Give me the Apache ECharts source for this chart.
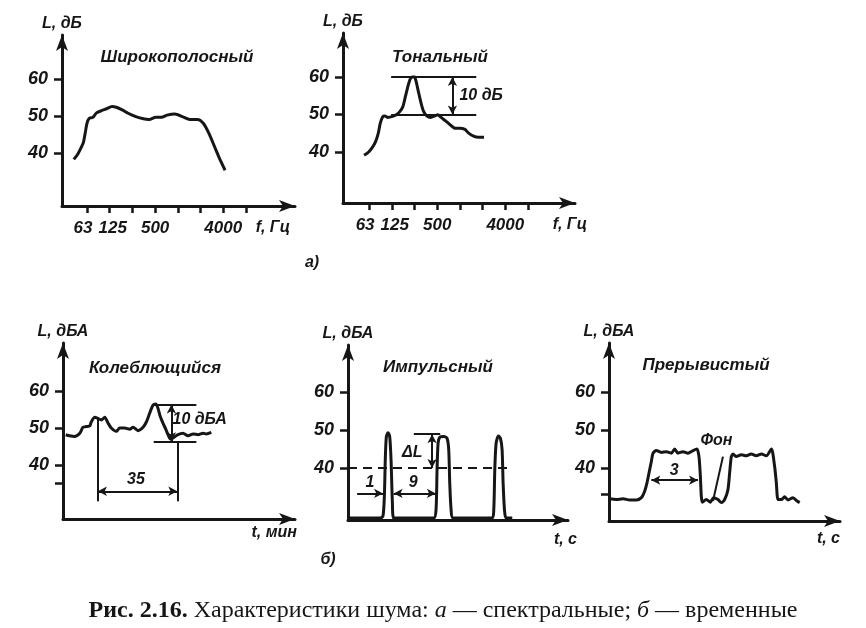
<!DOCTYPE html>
<html><head><meta charset="utf-8">
<script src="https://cdn.jsdelivr.net/npm/echarts@6/dist/echarts.min.js"></script>
<style>html,body{margin:0;padding:0;background:#fff}#c{width:866px;height:628px}</style>
</head><body><div id="c"></div>
<script>
// ---- data ----
const bands = ['63','125','250','500','1000','2000','4000','8000']; // octave bands, x = band index
const bandLabelIdx = [1,3,6];
const bandLabelFirst = [0];
const levelTicks = [40,50,60];

// а) spectral: [band index, L dB]
const broadband = [[-0.58,38.4],[-0.41,39.8],[-0.24,41.8],[-0.16,42.9],[-0.08,45.4],[0,48.1],[0.09,49.4],[0.26,49.7],[0.42,50.9],[0.64,51.5],[0.87,52.0],[1.10,52.6],[1.29,52.4],[1.55,51.7],[1.81,50.8],[2.15,49.9],[2.44,49.4],[2.74,49.1],[3.03,49.7],[3.28,49.7],[3.53,50.3],[3.87,50.6],[4.2,49.9],[4.53,49.1],[4.87,49.1],[5.12,48.1],[5.37,45.4],[5.62,41.8],[5.87,38.2],[6.08,35.5]];
const tonal = [[-0.22,39.1],[-0.02,40.0],[0.15,41.3],[0.28,42.7],[0.40,44.9],[0.49,47.6],[0.60,49.4],[0.69,49.6],[0.83,49.2],[1.0,49.4],[1.2,49.9],[1.36,50.8],[1.49,52.1],[1.6,54.8],[1.71,57.5],[1.8,59.3],[1.89,60],[2.0,60],[2.07,58.8],[2.17,56.1],[2.29,53.0],[2.4,50.8],[2.54,49.6],[2.71,49.2],[2.89,49.6],[3.03,49.9],[3.17,49.2],[3.37,48.3],[3.58,47.2],[3.8,46.3],[4.0,46.3],[4.22,46.0],[4.37,45.1],[4.6,44.2],[4.82,43.9],[5.06,43.9]];
const tonalRefLevels = [50,60];
const tonalRefSpan = [0.97,4.72];
const tonalArrowX = 3.67;

// б) temporal
const fluct = [[1.2,48.2],[2.9,47.9],[5.1,47.7],[7.4,48.6],[8.8,50.2],[10.3,50.4],[11.8,50.6],[12.5,51.7],[14.0,52.9],[15.4,52.6],[16.9,52.2],[18.4,52.9],[19.9,51.3],[21.3,50.0],[23.5,49.1],[25.0,50.0],[27.2,50.0],[29.4,49.7],[30.9,50.2],[33.1,49.3],[35.3,50.2],[36.8,51.7],[38.2,54.0],[39.7,56.2],[40.9,56.5],[41.9,55.3],[42.9,53.1],[44.1,51.3],[45.3,49.7],[46.3,48.2],[47.4,47.0],[48.5,47.3],[50.7,48.2],[52.9,48.6],[55.1,47.9],[57.4,48.4],[59.6,48.2],[61.8,48.6],[63.2,48.4],[65.4,48.8]];
const fluctSwing = [56.4,46.4];       // levels of the 10 dBA bracket
const fluctSwingSpan = [39.7,58.8];
const fluctSwingX = 47.8;
const fluctPeriod = [15.4,50.4];      // 35 min
const fluctPeriodTop = [52.6,46.4];

const impulse = [[0.3,26.8],[6.74,26.8],[7.29,27.4],[7.57,32.6],[7.78,43.0],[7.99,48.3],[8.33,49.3],[8.68,48.3],[8.96,42.2],[9.24,30.9],[9.51,26.8],
  [17.85,26.8],[18.33,29.1],[18.54,39.6],[18.75,46.5],[19.1,48.1],[19.93,48.3],[20.63,47.8],[20.97,44.8],[21.18,36.1],[21.46,29.1],[21.88,26.8],
  [30.0,26.8],[30.35,29.1],[30.56,39.6],[30.83,46.5],[31.32,48.4],[31.74,47.8],[32.08,44.8],[32.29,36.1],[32.57,29.1],[32.92,26.8],[34.2,26.8]];
const impulseThreshold = 40;
const impulseTop = 48.9;

const interm = [[0.04,31.9],[0.47,31.7],[0.9,31.9],[1.33,31.6],[1.76,31.6],[2.08,32.2],[2.29,33.9],[2.44,36.1],[2.57,38.7],[2.72,41.7],[2.83,43.9],[3.04,44.6],[3.36,44.1],[3.68,44.3],[4.0,43.9],[4.22,45.0],[4.43,43.9],[4.75,44.3],[5.07,43.9],[5.40,44.6],[5.65,45.0],[5.78,43.0],[5.87,37.8],[5.93,32.6],[6.0,31.0],[6.25,31.7],[6.51,31.0],[6.72,32.2],[7.0,31.7],[7.22,30.9],[7.43,31.7],[7.64,34.3],[7.75,38.7],[7.86,43.0],[7.97,43.7],[8.18,43.0],[8.5,43.5],[8.82,43.2],[9.14,43.7],[9.46,43.2],[9.79,43.7],[10.11,43.2],[10.43,45.0],[10.64,40.4],[10.75,36.1],[10.86,31.7],[11.07,31.7],[11.28,32.4],[11.5,31.6],[11.82,32.2],[12.08,31.3],[12.25,30.9]];
const intermOn = [2.72,5.72];

// ---- styling ----
const INK = '#161616';
const SANS = 'Liberation Sans';
const lblFont = {color: INK, fontFamily: SANS, fontWeight: 'bold', fontStyle: 'italic', fontSize: 16};
const tickLblRich = {
  l: {color: INK, fontFamily: SANS, fontWeight: 'bold', fontStyle: 'italic', fontSize: 17, padding: [0, 8, 0, 0]},
  r: {color: INK, fontFamily: SANS, fontWeight: 'bold', fontStyle: 'italic', fontSize: 17, padding: [0, 0, 0, 6]}
};

function yAx(gi, min, max, name, extraTicks) {
  return {gridIndex: gi, type: 'value', min, max, name, nameLocation: 'end', nameGap: 3,
    nameTextStyle: Object.assign({}, lblFont, {fontSize: 16, verticalAlign: 'bottom', align: 'center'}),
    splitLine: {show: false},
    axisLine: {show: true, onZero: false, symbol: ['none','arrow'], symbolSize: [9,16], lineStyle: {color: INK, width: 3}},
    axisTick: {show: true, length: 8, lineStyle: {color: INK, width: 2.5}, customValues: levelTicks.concat(extraTicks || [])},
    axisLabel: Object.assign({}, lblFont, {fontSize: 18, margin: 14, hideOverlap: false, customValues: levelTicks})};
}
function xAx(gi, min, max, name, gap, pad, freq) {
  const a = {gridIndex: gi, type: 'value', min, max, name, nameLocation: 'end', nameGap: gap,
    nameTextStyle: Object.assign({}, lblFont, {fontSize: 16, align: 'right', verticalAlign: 'top', padding: [pad,0,0,0]}),
    splitLine: {show: false},
    axisLine: {show: true, onZero: false, symbol: ['none','arrow'], symbolSize: [9,16], lineStyle: {color: INK, width: 3}},
    axisTick: {show: false}, axisLabel: {show: false}};
  if (freq) {
    a.axisTick = {show: true, length: 7, lineStyle: {color: INK, width: 2.5}, customValues: bands.map((b,i)=>i)};
    a.axisLabel = Object.assign({}, lblFont, {fontSize: 17, margin: 14, hideOverlap: false, customValues: bandLabelIdx, rich: tickLblRich,
      formatter: v => { const i = Math.round(v); return i === 1 ? '{r|' + bands[i] + '}' : bands[i]; }});
  }
  return a;
}
// companion axis carrying only the first band label (kept on its own so it is not dropped as overlapping)
function xAxFirst(gi, min, max) {
  return {gridIndex: gi, type: 'value', position: 'bottom', min, max, splitLine: {show: false},
    axisLine: {show: false, onZero: false}, axisTick: {show: false},
    axisLabel: Object.assign({}, lblFont, {fontSize: 17, margin: 14, hideOverlap: false, customValues: bandLabelFirst, rich: tickLblRich,
      formatter: v => '{l|' + bands[Math.round(v)] + '}'})};
}
function curve(gi, data) {
  return {type: 'line', xAxisIndex: gi, yAxisIndex: gi, data, smooth: 0.25, symbol: 'none', silent: true,
    lineStyle: {color: INK, width: 3}};
}
function seg(p1, p2, sym) {
  return [{coord: p1, symbol: sym ? sym[0] : 'none'}, {coord: p2, symbol: sym ? sym[1] : 'none'}];
}
function marks(gi, lines, texts, dashed) {
  return {type: 'scatter', xAxisIndex: gi, yAxisIndex: gi, silent: true, symbolSize: 1,
    itemStyle: {color: INK, opacity: 0},
    data: texts.map(t => ({value: [t[0], t[1]], label: {show: true, formatter: t[2], position: [0, 0], align: t[3] || 'center', verticalAlign: 'middle', opacity: 1, textBorderWidth: 0, ...lblFont}})),
    markLine: {silent: true, symbolSize: [7,9], label: {show: false}, animation: false,
      lineStyle: {color: INK, width: 2, opacity: 1, type: dashed ? [9,6] : 'solid'}, data: lines}};
}

const chart = echarts.init(document.getElementById('c'), null, {renderer: 'canvas'});
const AR = ['arrow','arrow'];
const titleFont = 'italic bold 17px "Liberation Sans"';
chart.setOption({
  animation: false,
  backgroundColor: '#ffffff',
  grid: [
    {left: 62, top: 35, width: 233, height: 171},
    {left: 343, top: 33, width: 232, height: 170},
    {left: 63, top: 343, width: 232, height: 176},
    {left: 348, top: 345, width: 220, height: 175},
    {left: 609, top: 343, width: 231, height: 178}
  ],
  xAxis: [
    xAx(0, -1.1, 9.16, 'f, Гц', -5, 14, true),
    xAx(1, -1.15, 9.07, 'f, Гц', 12, 14, true),
    xAx(2, 0, 102.3, 't, мин', 2, 6),
    xAx(3, 0, 45.8, 't, с', 9, 12),
    xAx(4, 0, 14.84, 't, с', 0, 10),
    xAxFirst(0, -1.1, 9.16),
    xAxFirst(1, -1.15, 9.07)
  ],
  yAxis: [
    yAx(0, 25.9, 71.8, 'L, дБ'),
    yAx(1, 26.4, 71.7, 'L, дБ'),
    yAx(2, 25.4, 73.0, 'L, дБА', [35]),
    yAx(3, 26.3, 72.4, 'L, дБА'),
    yAx(4, 26.05, 72.9, 'L, дБА', [33])
  ],
  series: [
    curve(0, broadband),
    curve(1, tonal),
    marks(1, [
      seg([tonalRefSpan[0], tonalRefLevels[1]], [tonalRefSpan[1], tonalRefLevels[1]]),
      seg([tonalRefSpan[0], tonalRefLevels[0]], [tonalRefSpan[1], tonalRefLevels[0]]),
      seg([tonalArrowX, tonalRefLevels[1]], [tonalArrowX, tonalRefLevels[0]], AR)
    ], [[4.0, 55, '10 дБ', 'left']]),
    curve(2, fluct),
    marks(2, [
      seg([fluctSwingSpan[0], fluctSwing[0]], [fluctSwingSpan[1], fluctSwing[0]]),
      seg([fluctSwingSpan[0] + 0.3, fluctSwing[1]], [fluctSwingSpan[1], fluctSwing[1]]),
      seg([fluctSwingX, fluctSwing[0]], [fluctSwingX, fluctSwing[1]], AR),
      seg([fluctPeriod[0], fluctPeriodTop[0]], [fluctPeriod[0], 30.2]),
      seg([fluctPeriod[1], fluctPeriodTop[1]], [fluctPeriod[1], 30.2]),
      seg([fluctPeriod[0], 32.9], [fluctPeriod[1], 32.9], AR)
    ], [[48.5, 52.2, '10 дБА', 'left'], [32.4, 35.8, '35']]),
    curve(3, impulse),
    marks(3, [seg([0, impulseThreshold], [34.2, impulseThreshold])], [], true),
    marks(3, [
      seg([13.7, impulseTop], [19.2, impulseTop]),
      seg([17.5, impulseTop], [17.5, impulseThreshold], AR),
      seg([1.9, 33.3], [7.3, 33.3], ['none','arrow']),
      seg([9.5, 33.3], [18.3, 33.3], AR)
    ], [[13.5, 43.9, 'ΔL'], [4.65, 36.1, '1'], [13.7, 36.1, '9']]),
    curve(4, interm),
    marks(4, [
      seg([intermOn[0], 36.8], [intermOn[1], 36.8], AR),
      seg([7.32, 43.0], [6.68, 31.3])
    ], [[4.22, 39.3, '3'], [6.94, 47, 'Фон']])
  ],
  graphic: [
    {type: 'text', x: 177, y: 57, style: {text: 'Широкополосный', align: 'center', verticalAlign: 'middle', fill: INK, font: titleFont}},
    {type: 'text', x: 440, y: 57, style: {text: 'Тональный', align: 'center', verticalAlign: 'middle', fill: INK, font: titleFont}},
    {type: 'text', x: 155, y: 368, style: {text: 'Колеблющийся', align: 'center', verticalAlign: 'middle', fill: INK, font: titleFont}},
    {type: 'text', x: 438, y: 367, style: {text: 'Импульсный', align: 'center', verticalAlign: 'middle', fill: INK, font: titleFont}},
    {type: 'text', x: 706, y: 365, style: {text: 'Прерывистый', align: 'center', verticalAlign: 'middle', fill: INK, font: titleFont}},
    {type: 'text', x: 312, y: 263, style: {text: 'а)', align: 'center', verticalAlign: 'middle', fill: INK, font: 'italic bold 16px "Liberation Sans"'}},
    {type: 'text', x: 328, y: 560, style: {text: 'б)', align: 'center', verticalAlign: 'middle', fill: INK, font: 'italic bold 16px "Liberation Sans"'}},
    {type: 'text', x: 443, y: 611, style: {
      text: '{b|Рис. 2.16.} Характеристики шума: {i|а} — спектральные; {i|б} — временные',
      align: 'center', verticalAlign: 'middle', fill: INK, font: '24px "Liberation Serif"',
      rich: {b: {fontWeight: 'bold', fontFamily: 'Liberation Serif', fontSize: 24, fill: INK}, i: {fontStyle: 'italic', fontFamily: 'Liberation Serif', fontSize: 24, fill: INK}}}}
  ]
});
</script></body></html>
